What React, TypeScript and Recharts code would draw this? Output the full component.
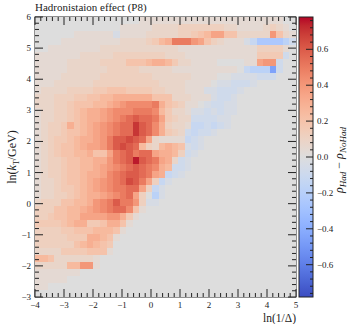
import { ScatterChart, Scatter, XAxis, YAxis, Customized } from "recharts";

// lund-plane binning
const X_MIN = -4;
const X_MAX = 5;
const Y_MIN = -3;
const Y_MAX = 6;
const N_BINS = 40;
const Z_MAX = 0.78;

const X_TICKS = [-4, -3, -2, -1, 0, 1, 2, 3, 4, 5];
const Y_TICKS = [-3, -2, -1, 0, 1, 2, 3, 4, 5, 6];
const CB_TICKS = [-0.6, -0.4, -0.2, 0, 0.2, 0.4, 0.6];

// cell code -> rho_Had - rho_NoHad
const LEVELS: Record<string, number> = {
  "0": 0, "1": 0.04, "2": 0.08, "3": 0.12, "4": 0.16, "5": 0.2, "6": 0.25, "7": 0.3,
  "8": 0.35, "9": 0.4, A: 0.45, B: 0.5, C: 0.55, D: 0.6, E: 0.65, F: 0.7, G: 0.75,
  a: -0.04, b: -0.08, c: -0.12, d: -0.18, e: -0.25, f: -0.35, g: -0.45,
};

// rows from top (ln kT ~ 6) to bottom (ln kT ~ -3), columns from ln(1/D) = -4 to 5
const ROWS = [
  "00000 00000 00000 01111 11111 11111 11111 11100",
  "00000 00000 00011 11122 22333 33332 21111 23210",
  "00000 01111 11a11 11222 22334 56885 52222 29521",
  "00001 11111 11122 22346 7BBB9 85321 11ace eeedb",
  "00111 11111 22222 22222 22111 11111 11113 33310",
  "11111 11222 22333 33333 22211 11111 11114 444b0",
  "11111 22222 33335 55677 64221 11100 00118 99b00",
  "11111 22222 23333 32222 21111 11111 10cdd dgb00",
  "11112 22222 33333 33322 22221 11100 aaaab bb000",
  "11122 22223 33333 33332 22211 110aa bbba0 00000",
  "12222 33334 45554 44433 22211 1aabb ba000 00000",
  "22233 34455 66777 77755 52221 11abb a0000 00000",
  "22233 45556 6789A AAAB7 54311 0abba a0000 00000",
  "12233 45677 89AAA BBBA6 4221a ababa a0000 00000",
  "12233 45677 89ABC DCCB8 4322b bbbaa 00000 00000",
  "12334 75678 9ABCC FDCA7 3221c cbcba 00000 00000",
  "12334 55678 9ABCC FDCA7 432bc bba00 00000 00000",
  "12344 56778 9BDDE DC821 111cb a0000 00000 00000",
  "12345 56788 9BDED C6326 765ab a0000 00000 00000",
  "12345 56675 58BCD BCC87 763ba 00000 00000 00000",
  "12334 55667 79BCD GDCB8 72ba0 00000 00000 00000",
  "12334 55667 89ABC DCBA7 6bba0 00000 00000 00000",
  "12334 55677 8ABCD DCB87 cba00 00000 00000 00000",
  "12234 55678 9ABCE DB83c a0000 00000 00000 00000",
  "12234 45678 9ABBC C83ca 00000 00000 00000 00000",
  "12233 45677 89ABC 830da 00000 00000 00000 00000",
  "23335 56679 ABDBB 93aa0 00000 00000 00000 00000",
  "33355 66789 ABCCA 51000 00000 00000 00000 00000",
  "33455 66888 89974 10000 00000 00000 00000 00000",
  "44445 67744 57751 00000 00000 00000 00000 00000",
  "33334 45556 66510 00000 00000 00000 00000 00000",
  "33333 44477 65100 00000 00000 00000 00000 00000",
  "33333 35676 54000 00000 00000 00000 00000 00000",
  "22224 44455 51000 00000 00000 00000 00000 00000",
  "66522 22221 00000 00000 00000 00000 00000 00000",
  "22222 66991 00000 00000 00000 00000 00000 00000",
  "11111 11000 00000 00000 00000 00000 00000 00000",
  "11111 00000 00000 00000 00000 00000 00000 00000",
  "11000 00000 00000 00000 00000 00000 00000 00000",
  "00000 00000 00000 00000 00000 00000 00000 00000",
];

// matplotlib coolwarm
const COOLWARM = [
  [59, 76, 192], [68, 90, 204], [77, 104, 215], [87, 117, 225], [98, 130, 234], [108, 142, 241],
  [119, 154, 247], [130, 165, 251], [141, 176, 254], [152, 185, 255], [163, 194, 255], [174, 201, 253],
  [184, 208, 249], [194, 213, 244], [204, 217, 238], [213, 219, 230], [221, 221, 221], [229, 216, 209],
  [236, 211, 197], [241, 204, 184], [245, 196, 172], [247, 187, 160], [247, 177, 148], [247, 166, 137],
  [244, 154, 123], [241, 141, 112], [236, 127, 99], [229, 112, 88], [222, 96, 77], [213, 80, 66],
  [203, 62, 56], [192, 40, 47], [180, 4, 38],
];

const W = 349;
const H = 324;
const PLOT_L = 35;
const PLOT_T = 17;
const PLOT_W = 261;
const PLOT_H = 280;
const CB_GAP = 3;
const CB_W = 14;
const FONT = "'Liberation Serif', 'DejaVu Serif', serif";
const INK = "#222";

const BIN_W = (X_MAX - X_MIN) / N_BINS;
const BIN_H = (Y_MAX - Y_MIN) / N_BINS;
const CELL_W = PLOT_W / N_BINS;
const CELL_H = PLOT_H / N_BINS;

function coolwarm(v: number) {
  const t = Math.min(1, Math.max(0, (v + Z_MAX) / (2 * Z_MAX)));
  const f = t * (COOLWARM.length - 1);
  const i = Math.min(COOLWARM.length - 2, Math.floor(f));
  const u = f - i;
  const c = COOLWARM[i].map((a, k) => Math.round(a + (COOLWARM[i + 1][k] - a) * u));
  return `rgb(${c.join(",")})`;
}

const cells = ROWS.flatMap((row, r) => {
  const j = N_BINS - 1 - r;
  return row
    .replace(/ /g, "")
    .split("")
    .map((ch, i) => ({
      x: X_MIN + (i + 0.5) * BIN_W,
      y: Y_MIN + (j + 0.5) * BIN_H,
      v: LEVELS[ch] ?? 0,
    }));
});

// majors plus 4 minors between each pair
function withMinors(majors: number[], extra = 0) {
  const step = (majors[1] - majors[0]) / 5;
  const out: number[] = [];
  for (let k = -extra; k <= (majors.length - 1) * 5 + extra; k++) {
    out.push(Math.round((majors[0] + k * step) * 1000) / 1000);
  }
  return out;
}

const isMajor = (v: number, majors: number[]) => majors.some((m) => Math.abs(m - v) < 1e-6);
const fmt = (v: number) => (v < 0 ? "\u2212" + Math.abs(v) : String(v));
const fmtCb = (v: number) => (Math.abs(v) < 1e-9 ? "0.0" : v < 0 ? "\u2212" + Math.abs(v).toFixed(1) : v.toFixed(1));

const renderCell = (props: any) => {
  const { cx, cy, payload } = props;
  if (cx == null || cy == null) return <g />;
  return (
    <rect
      x={cx - CELL_W / 2 - 0.25}
      y={cy - CELL_H / 2 - 0.25}
      width={CELL_W + 0.5}
      height={CELL_H + 0.5}
      fill={coolwarm(payload.v)}
      shapeRendering="crispEdges"
    />
  );
};

const XTick = (props: any) => {
  const { x, y, payload } = props;
  const major = isMajor(payload.value, X_TICKS);
  const len = major ? 8 : 4;
  return (
    <g>
      <line x1={x} y1={y} x2={x} y2={y - len} stroke={INK} strokeWidth={1} />
      <line x1={x} y1={PLOT_T} x2={x} y2={PLOT_T + len} stroke={INK} strokeWidth={1} />
      {major && (
        <text x={x} y={y + 11} textAnchor="middle" fontSize={9} fontFamily={FONT} fill={INK}>
          {fmt(payload.value)}
        </text>
      )}
    </g>
  );
};

const YTick = (props: any) => {
  const { x, y, payload } = props;
  const major = isMajor(payload.value, Y_TICKS);
  const len = major ? 8 : 4;
  return (
    <g>
      <line x1={x} y1={y} x2={x + len} y2={y} stroke={INK} strokeWidth={1} />
      <line x1={PLOT_L + PLOT_W} y1={y} x2={PLOT_L + PLOT_W - len} y2={y} stroke={INK} strokeWidth={1} />
      {major && (
        <text x={x - 4} y={y + 3} textAnchor="end" fontSize={9} fontFamily={FONT} fill={INK}>
          {fmt(payload.value)}
        </text>
      )}
    </g>
  );
};

const CbTick = (props: any) => {
  const { x, y, payload } = props;
  const major = isMajor(payload.value, CB_TICKS);
  const right = x + CB_GAP + CB_W;
  return (
    <g>
      <line x1={right} y1={y} x2={right - (major ? 7 : 3)} y2={y} stroke={INK} strokeWidth={1} />
      {major && (
        <text x={right + 4} y={y + 3} textAnchor="start" fontSize={9} fontFamily={FONT} fill={INK}>
          {fmtCb(payload.value)}
        </text>
      )}
    </g>
  );
};

const Overlay = () => {
  const cbX = PLOT_L + PLOT_W + CB_GAP;
  return (
    <g>
      <defs>
        <linearGradient id="cw" x1="0" y1="1" x2="0" y2="0">
          {COOLWARM.map((c, k) => (
            <stop key={k} offset={k / (COOLWARM.length - 1)} stopColor={`rgb(${c.join(",")})`} />
          ))}
        </linearGradient>
      </defs>
      <rect x={PLOT_L} y={PLOT_T} width={PLOT_W} height={PLOT_H} fill="none" stroke={INK} strokeWidth={1} />
      <rect x={cbX} y={PLOT_T} width={CB_W} height={PLOT_H} fill="url(#cw)" stroke={INK} strokeWidth={1} />
      <text x={PLOT_L} y={11} fontSize={11} fontFamily={FONT} fill={INK}>
        Hadronistaion effect (P8)
      </text>
      <text x={PLOT_L + PLOT_W} y={322} textAnchor="end" fontSize={11.5} fontFamily={FONT} fill={INK}>
        ln(1/Δ)
      </text>
      <text
        x={16}
        y={PLOT_T + PLOT_H / 2}
        transform={`rotate(-90, 16, ${PLOT_T + PLOT_H / 2})`}
        textAnchor="middle"
        fontSize={12}
        fontFamily={FONT}
        fill={INK}
      >
        ln(<tspan fontStyle="italic">k</tspan>
        <tspan dy={3} fontSize={8}>T</tspan>
        <tspan dy={-3}>/GeV)</tspan>
      </text>
      <text
        x={343}
        y={160}
        transform="rotate(-90, 343, 160)"
        textAnchor="middle"
        fontSize={12}
        fontFamily={FONT}
        fill={INK}
      >
        <tspan fontStyle="italic">ρ</tspan>
        <tspan dy={3} fontSize={9} fontStyle="italic">Had</tspan>
        <tspan dy={-3}> − </tspan>
        <tspan fontStyle="italic">ρ</tspan>
        <tspan dy={3} fontSize={9} fontStyle="italic">NoHad</tspan>
      </text>
    </g>
  );
};

export default function App() {
  return (
    <div style={{ position: "absolute", left: 0, top: 0, background: "#fff" }}>
      <ScatterChart width={W} height={H} margin={{ top: PLOT_T, right: 0, bottom: 0, left: 0 }}>
        <XAxis
          type="number"
          dataKey="x"
          domain={[X_MIN, X_MAX]}
          allowDataOverflow
          ticks={withMinors(X_TICKS)}
          interval={0}
          tick={<XTick />}
          tickLine={false}
          axisLine={false}
          tickSize={0}
          tickMargin={0}
          height={H - PLOT_T - PLOT_H}
        />
        <YAxis
          type="number"
          dataKey="y"
          domain={[Y_MIN, Y_MAX]}
          allowDataOverflow
          ticks={withMinors(Y_TICKS)}
          interval={0}
          tick={<YTick />}
          tickLine={false}
          axisLine={false}
          tickSize={0}
          tickMargin={0}
          width={PLOT_L}
        />
        <YAxis
          yAxisId="cb"
          orientation="right"
          type="number"
          domain={[-Z_MAX, Z_MAX]}
          allowDataOverflow
          ticks={withMinors(CB_TICKS, 4)}
          interval={0}
          tick={<CbTick />}
          tickLine={false}
          axisLine={false}
          tickSize={0}
          tickMargin={0}
          width={W - PLOT_L - PLOT_W}
        />
        <Scatter data={cells} shape={renderCell} isAnimationActive={false} />
        <Customized component={Overlay} />
      </ScatterChart>
    </div>
  );
}
